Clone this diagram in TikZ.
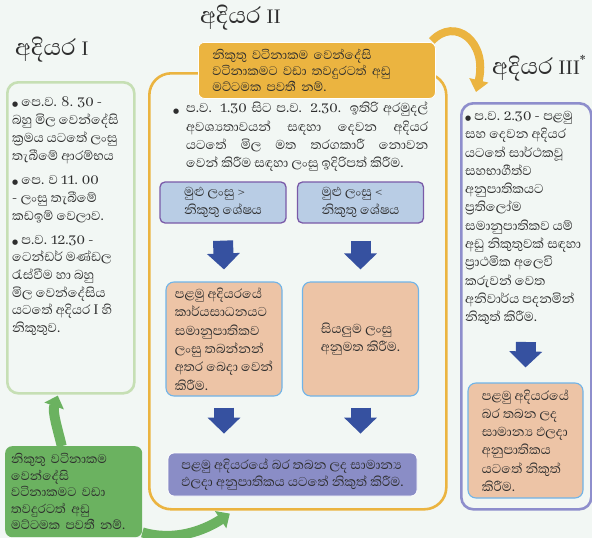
\documentclass[tikz,border=0pt]{standalone}
\usepackage{fontspec}
\setmainfont[Script=Sinhala]{Abhaya Libre}
\newfontfamily\dvs{DejaVu Sans}
\usetikzlibrary{arrows.meta,calc}
\pgfdeclarelayer{bgl}
\pgfdeclarelayer{mid}
\pgfsetlayers{bgl,mid,main}
\definecolor{bg}{HTML}{F2F7F4}
\definecolor{ink}{HTML}{2E2E2E}
\definecolor{ygold}{HTML}{EBB440}
\definecolor{ggreen}{HTML}{6BB260}
\definecolor{lgreen}{HTML}{C6DFB4}
\definecolor{pborder}{HTML}{8E8ECC}
\definecolor{bfill}{HTML}{B9CDE5}
\definecolor{bborder}{HTML}{7A5AA8}
\definecolor{ablue}{HTML}{3651A0}
\definecolor{ofill}{HTML}{EDC4A6}
\definecolor{oborder}{HTML}{70B4E8}
\definecolor{pfill}{HTML}{8A8DC6}
\newcommand\bodyfont{\fontsize{16.5}{18.3}\selectfont}
\newcommand\blt{{\dvs\fontsize{7}{7}\selectfont ●}\ }
\newcommand\lat[1]{{\fontsize{23}{24}\selectfont #1}}
\begin{document}
\begin{tikzpicture}[x=1pt,y=-1pt,
  txt/.style={inner sep=0pt, align=left, font=\bodyfont, text=ink},
  ttl/.style={inner sep=0pt, font=\fontsize{29}{30}\selectfont, text=ink},
  bluebox/.style={draw=bborder, line width=1.3pt, fill=bfill, rounded corners=5pt,
     minimum width=126pt, minimum height=41pt, align=left, font=\bodyfont, text=ink, inner sep=0pt},
  orbox/.style={draw=oborder, line width=1.1pt, fill=ofill, rounded corners=8pt,
     minimum width=116pt, minimum height=114pt, align=left, font=\bodyfont, text=ink, inner sep=0pt},
  barrow/.style={line width=20pt, ablue, -{Triangle[width=32pt,length=16pt]}},
  garrow/.style={line width=10pt, ggreen, -{Triangle[width=20pt,length=11pt]}},
]
\useasboundingbox (0,0) rectangle (592,538);
\begin{pgfonlayer}{bgl}
\fill[bg] (0,0) rectangle (592,538);
\end{pgfonlayer}

% titles
\node[ttl, anchor=west] (t1) at (15,50) {අදියර \lat{I}};
\node[ttl, anchor=west] (t2) at (200,18) {අදියර \lat{II}};
\node[ttl, anchor=west] (t3) at (492,68) {අදියර \lat{III\textsuperscript{*}}};

% left column
\node[draw=lgreen, line width=2.6pt, rounded corners=11pt, minimum width=127pt, minimum height=311pt,
  anchor=north west, inner sep=0pt] (lb) at (6,81) {};
\node[txt, anchor=north west] (lt) at (12,96) {\blt පෙ.ව. 8. 30 -\\ බහු මිල වෙන්දේසි\\ ක්^^^^200dරමය යටතේ ලංසු\\ තැබීමේ ආරම්භය\\[5pt]
\blt පෙ. ව 11. 00\\ - ලංසු තැබීමේ\\ කඩඉම් වෙලාව.\\[5pt]
\blt ප.ව. 12.30 -\\[-0.6pt] ටෙන්ඩර් මණ්ඩල\\[-0.6pt] රැස්වීම හා බහු\\[-0.6pt] මිල වෙන්දේසිය\\[-0.6pt] යටතේ අදියර I හි\\[-0.6pt] නිකුතුව.};

\node[fill=ggreen, rounded corners=7pt, minimum width=137pt, minimum height=91pt, anchor=north west,
  inner xsep=6pt, inner ysep=0pt, text width=125pt, align=left, text=ink,
  font=\fontsize{16}{16.5}\selectfont] (gb) at (5,446)
  {නිකුතු වටිනාකම\\ වෙන්දේසි\\ වටිනාකමට වඩා\\ තවදුරටත් අඩු\\ මට්ටමක පවතී නම්.};

% middle column
\node[draw=ygold, line width=2.6pt, rounded corners=22pt, minimum width=297pt, minimum height=436pt,
  anchor=north west, inner sep=0pt] (big) at (148,72) {};
\node[fill=ygold, draw=white, line width=0.8pt, rounded corners=6pt, minimum width=237pt, minimum height=56pt,
  anchor=north west, inner xsep=14pt, inner ysep=0pt, text width=209pt, align=left, text=ink,
  font=\fontsize{16}{16}\selectfont] (yb) at (198,42)
  {නිකුතු වටිනාකම වෙන්දේසි\\ වටිනාකමට වඩා තවදුරටත් අඩු\\ මට්ටමක පවතී නම්.};

\node[txt, anchor=west] (mbul) at (173,112) {{\dvs\fontsize{7}{7}\selectfont ●}};
\node[txt, anchor=north west] (mt) at (186,102)
  {\makebox[242pt][s]{ප.ව. 1.30 සිට ප.ව. 2.30. ඉතිරි අරමුදල්}\\
   \makebox[242pt][s]{අවශ්^^^^200dයතාවයන් සඳහා දෙවන අදියර}\\
   \makebox[242pt][s]{යටතේ මිල මත තරගකාරී නොවන}\\
   වෙන් කිරීම සඳහා ලංසු ඉදිරිපත් කිරීම.};

\node[bluebox] (b1) at (223,202.5) {මුළු ලංසු >\\ නිකුතු ශේෂය};
\node[bluebox] (b2) at (360.5,202.5) {මුළු ලංසු <\\ නිකුතු ශේෂය};

\node[orbox] (o1) at (224,339) {පළමු අදියරයේ\\ කාර්යසාධනයට\\ සමානුපාතිකව\\ ලංසු තබන්නන්\\ අතර බෙදා වෙන්\\ කිරීම.};
\node[orbox] (o2) at (360.5,339) {සියලුම ලංසු\\ අනුමත කිරීම.};

\node[fill=pfill, draw=white, line width=0.8pt, rounded corners=6pt, minimum width=249pt, minimum height=43pt,
  align=left, text=ink, inner sep=0pt, font=\fontsize{16.5}{17.5}\selectfont] (pb) at (292.5,474.5)
  {පළමු අදියරයේ බර තබන ලද සාමාන්^^^^200dය\\ ඵලදා අනුපාතිකය යටතේ නිකුත් කිරීම.};

\draw[barrow] ([yshift=-17pt]b1.south) -- ([yshift=12pt]o1.north);
\draw[barrow] ([yshift=-17pt]b2.south) -- ([yshift=12pt]o2.north);
\draw[barrow] ([yshift=-11pt]o1.south) -- ([yshift=19pt]pb.north -| o1.south);
\draw[barrow] ([yshift=-11pt]o2.south) -- ([yshift=19pt]pb.north -| o2.south);

% right column
\node[draw=pborder, line width=2.6pt, rounded corners=12pt, minimum width=130pt, minimum height=406pt,
  anchor=north west, inner sep=0pt] (rb) at (460,102) {};
\node[txt, anchor=north west] (rt) at (465,111) {\blt ප.ව. 2.30 - පළමු\\ සහ දෙවන අදියර\\ යටතේ සාර්ථකවූ\\ සහභාගීත්ව\\ අනුපාතිකයට\\ ප්^^^^200dරතිලෝම\\ සමානුපාතිකව යම්\\ අඩු නිකුතුවක් සඳහා\\ ප්^^^^200dරාථමික අලෙවි\\ කරුවන් වෙත\\ අනිවාර්ය පදනමින්\\ නිකුත් කිරීම.};
\coordinate (ra) at (526,342);
\node[orbox, minimum width=115pt, minimum height=115pt] (ro) at (525.5,440.5) {පළමු අදියරයේ\\ බර තබන ලද\\ සාමාන්^^^^200dය ඵලදා\\ අනුපාතිකය\\ යටතේ නිකුත්\\ කිරීම.};
\draw[barrow] (ra) -- ([yshift=15pt]ro.north);

% yellow curved arrow (behind the yellow box)
\begin{pgfonlayer}{mid}
\draw[line width=8pt, ygold, -{Triangle[width=19pt,length=12pt]}]
  ([xshift=-4pt,yshift=1pt]yb.north east) .. controls (455,16) and (488,42) .. ([xshift=16pt,yshift=10pt]rb.north west);
\end{pgfonlayer}

% green curved arrows
\draw[garrow] ([xshift=-12pt]gb.north) .. controls (58,430) and (52,412) .. ([xshift=-13pt,yshift=-1pt]lb.south);
\draw[garrow] ([yshift=5pt]gb.south east) .. controls (175,542) and (205,530) .. ([xshift=-68pt,yshift=-3pt]big.south);
\end{tikzpicture}
\end{document}
